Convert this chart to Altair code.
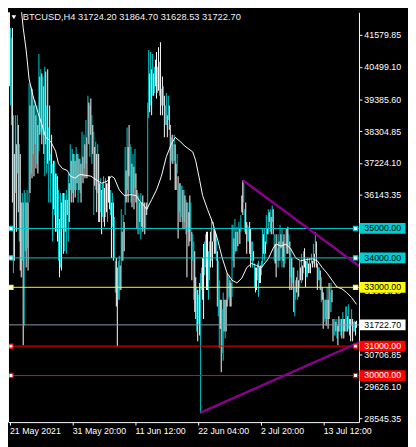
import altair as alt
import pandas as pd

title_text = "BTCUSD,H4  31724.20 31864.70 31628.53 31722.70"

# bar direction per 4h bar: C = up (cyan), W = down (white)
bar_dir = (
    "WC CW CW CW CW CW WC WC CW CW "
    "CW CW CW CW CW CW CW CW CW CW "
    "CW CW CW CW CW CW CW CW CW CW "
    "CW CW CW CW CW CW CW CW CW CW "
    "CW CW CW CW CW CW WC WC CW CW "
    "CW WC WC WC CW WC CW CW CW CW "
    "CW WC CW CW CW WC CW CW WC WC "
    "WC CW CW CW CW WC WC WC WC WC "
    "CW CW WC WC CW WC WC WC CW CW "
    "CW CW WC WC CW WC WC WC CW WC "
    "CW WC CW CW CW WC WC CW WC CW "
    "CW WC CW WC CW CW CW CW CW WC "
    "CW WC CW WC CW CW WC CW WC CW "
    "CW CW CW CW CW CW WC CW CW CW "
    "WC CW WC WC WC WC CW CW CW CW "
    "CW WC CW CW CW CW CW WC CW CW "
    "WC CW CW WC CW WC CW CW WC CW "
    "CW WC CW CW WC WC CW W"
)

bar_high = [
    42750, 41820, 41490, 41820, 38850, 37530, 38850, 37860, 38850, 38520, 37860, 37530, 35880, 36210, 35880, 36310, 36210, 35880, 36310, 35880,
    39940, 39180, 39840, 39750, 39420, 39180, 39350, 38850, 39180, 38520, 40930, 40170, 40410, 40270, 40170, 39840, 40500, 40340, 39180, 40410,
    38430, 39180, 37530, 38190, 37200, 37300, 37300, 36870, 36870, 36780, 36310, 35320, 36210, 35880, 36210, 36210, 36210, 35980, 36310, 35980,
    36870, 36540, 37860, 37300, 37700, 37530, 37530, 37300, 37770, 37530, 37530, 37370, 37370, 37200, 38290, 37440, 38190, 37860, 38690, 38100,
    39510, 39280, 39180, 39420, 38850, 38520, 38290, 37770, 37960, 37530, 37860, 37530, 36540, 36710, 36310, 36540, 36780, 36380, 36710, 36540,
    36540, 36780, 36780, 36310, 35880, 36210, 35880, 35390, 33900, 34000, 33670, 33900, 34070, 33740, 35650, 34890, 35460, 35220, 37770, 36970,
    38430, 37770, 38520, 37860, 37770, 37200, 37530, 37100, 37700, 36870, 36310, 36210, 36120, 35880, 36210, 35880, 36120, 35880, 35880, 35720,
    35880, 39280, 41070, 40270, 41000, 40410, 40930, 40270, 40500, 40740, 41000, 40500, 41160, 40670, 41330, 39750, 40170, 39840, 39510, 39180,
    39610, 38850, 39510, 39180, 38520, 38100, 38190, 37860, 38190, 37860, 37200, 37530, 36780, 36540, 36540, 36450, 36450, 36310, 36310, 36120,
    35980, 35880, 35880, 35550, 36120, 35880, 34890, 34800, 34560, 34230, 33340, 33010, 32910, 32750, 33150, 33480, 33670, 34000, 34470, 34560,
    34800, 34890, 34890, 34230, 34560, 34890, 35320, 34560, 35220, 34990, 34890, 34800, 34230, 33900, 33240, 32580, 32580, 32250, 32820, 32580,
    32580, 32580, 33480, 33340, 33410, 33240, 33150, 35130, 35130, 34660, 35320, 34890, 35060, 34890, 35220, 34990, 35460, 36120, 36640, 36540,
    35650, 35880, 35220, 35130, 35060, 35220, 34990, 34560, 34560, 34230, 33810, 33670, 33670, 33810, 33900, 33670, 33740, 33900, 34990, 34800,
    34990, 34560, 35460, 34990, 35650, 35550, 35650, 35390, 35780, 35650, 34800, 34470, 34800, 34330, 34800, 34560, 35130, 34800, 34990, 34560,
    34800, 34330, 34990, 34990, 35060, 34800, 34560, 34330, 34000, 33670, 33670, 33010, 33240, 33340, 33570, 33240, 33900, 33670, 34140, 33740,
    34230, 34330, 33900, 33900, 34000, 33810, 34000, 33810, 34140, 33900, 34470, 34140, 34890, 34560, 33810, 33670, 33670, 33570, 33340, 33010,
    32820, 32580, 32580, 32580, 33010, 32580, 33150, 32820, 33150, 32910, 31920, 31920, 31920, 31830, 31920, 31690, 32020, 31920, 31920, 31920,
    32160, 31920, 31920, 32350, 32350, 32020, 32420, 31920, 31920, 32250, 31920, 31830, 31860, 31830, 31864.70,
]

bar_low = [
    39840, 39180, 38520, 35880, 33480, 33900, 36210, 34890, 36870, 35550, 34560, 33570, 33340, 33900, 31030, 31690, 34230, 33670, 34330, 33570,
    35880, 36210, 36870, 36710, 37530, 36780, 37860, 37040, 37200, 36870, 37630, 38190, 38290, 37860, 38190, 37530, 36780, 37860, 36870, 37200,
    35880, 37300, 35880, 36870, 34560, 35650, 35460, 34890, 34890, 34560, 33900, 33340, 33670, 33570, 34990, 34140, 34230, 34890, 34140, 35460,
    34560, 35220, 36310, 35880, 36210, 35880, 36310, 36050, 36310, 36540, 35880, 36310, 36210, 35880, 36780, 36540, 37040, 36710, 37200, 36710,
    38100, 37860, 37440, 38190, 37200, 37530, 35460, 36450, 36310, 35550, 36210, 35220, 35220, 35550, 34800, 35390, 35220, 35060, 35390, 35550,
    35220, 35880, 35650, 35460, 34000, 35060, 33900, 34000, 32820, 32350, 31000, 32580, 32580, 32910, 32910, 33900, 33900, 34230, 35460, 35880,
    36310, 35880, 36780, 36210, 35880, 35720, 36210, 35650, 36380, 35880, 34990, 34800, 34800, 35220, 34630, 35060, 34890, 34990, 34800, 34990,
    35460, 35650, 38760, 38950, 39180, 38850, 39510, 39510, 39610, 39840, 39420, 39610, 39680, 39510, 38850, 39180, 38850, 39180, 38100, 38520,
    38520, 38100, 38690, 38360, 36640, 37300, 37200, 37200, 37300, 36310, 36310, 36870, 34660, 35550, 35220, 35390, 35220, 34990, 35220, 34990,
    34800, 33340, 34890, 34400, 34560, 34890, 33240, 33900, 32580, 32160, 31920, 31500, 31170, 31760, 31360, 28720, 32910, 32580, 31920, 33410,
    33670, 32910, 32910, 32580, 33240, 33670, 33900, 33670, 34560, 34140, 34140, 33900, 32350, 32020, 30930, 31590, 30110, 30770, 30500, 31500,
    31260, 31500, 32350, 32580, 32680, 32350, 32350, 32680, 33900, 33670, 34140, 34230, 34230, 34400, 34890, 34470, 34890, 35550, 35460, 35880,
    34890, 34800, 34140, 34560, 34560, 34140, 33670, 33900, 33670, 33900, 33010, 32820, 32910, 33240, 32680, 33150, 33150, 33410, 33670, 34140,
    33900, 34140, 34470, 34800, 34800, 35220, 34890, 34800, 35220, 34800, 33900, 33810, 33340, 33900, 33670, 33900, 33900, 34330, 33670, 33900,
    33670, 33810, 34330, 34140, 34140, 34400, 32910, 33340, 32910, 33150, 32160, 32020, 32580, 32820, 32580, 32680, 33010, 33240, 33150, 33240,
    33480, 33670, 33010, 33340, 33340, 33480, 33480, 33480, 33810, 33670, 33810, 33670, 34140, 33670, 32910, 33240, 33240, 32910, 32490, 32580,
    31590, 31830, 31920, 31690, 31920, 31590, 31920, 32160, 32160, 32490, 31170, 31360, 31360, 31500, 31260, 31030, 31500, 31500, 31360, 31260,
    31500, 31260, 31500, 31500, 31500, 31500, 31590, 31360, 31170, 31690, 31170, 31500, 31500, 31360, 31628.53,
]

# moving average (white line), sampled at bar indices
ma_bar = [12, 14, 17, 20, 24, 29, 34, 37, 42, 47, 50, 54, 59, 62, 67, 72, 77, 83, 89, 94,
          100, 104, 107, 112, 117, 124, 129, 134, 137, 140, 145, 150, 155, 160, 165, 169, 174, 179, 183, 187,
          190, 194, 197, 202, 207, 212, 217, 222, 227, 232, 237, 242, 247, 252, 257, 264, 269, 272, 277, 282,
          287, 292, 297, 302, 309, 314, 319, 324, 329, 334, 339, 344, 349, 354]
ma_value = [42480, 41820, 41070, 40080, 39510, 38950, 38430, 38100, 37960, 37630, 37200, 37040, 36970, 36780, 36710, 36840, 36810, 36780, 36640, 36540,
            36610, 36780, 36710, 36310, 36120, 36150, 36120, 35880, 35790, 35650, 35980, 36310, 36780, 37440, 37860, 38100, 37960, 37800, 37700, 37600,
            37300, 36640, 36120, 35650, 35220, 34660, 34000, 33480, 33240, 33150, 33310, 33670, 33810, 33740, 33670, 33970, 34330, 34470, 34400, 34470,
            34300, 34000, 33900, 33940, 33970, 33900, 33670, 33480, 33240, 33010, 32950, 32820, 32650, 32420]

# triangle trendlines (anchor bar index, price)
upper_trend_bar = [238, 359]
upper_trend_price = [36640, 33660]
lower_trend_bar = [195, 359]
lower_trend_price = [28740, 31160]

x_tick_bars = [0, 64, 128, 192, 256, 320]
x_tick_labels = ["21 May 2021", "31 May 20:00", "11 Jun 12:00", "22 Jun 04:00", "2 Jul 20:00", "13 Jul 12:00"]

y_ticks = [41579.85, 40499.10, 39385.60, 38304.85, 37224.10, 36143.35, 35062.60,
           33981.85, 32901.10, 31787.60, 30706.85, 29626.10, 28545.35]

level_prices = [35000, 34000, 33000, 31000, 30000]
level_colors = ["#00CED1", "#00CED1", "#FFFF00", "#FF0000", "#FF0000"]
level_text_colors = ["#000000", "#000000", "#000000", "#FFFFFF", "#FFFFFF"]
last_price = 31722.70

# ---------------------------------------------------------------
W, H = 358, 418
FONT = "Liberation Sans"
xs = alt.Scale(domain=[-1.5, 356.5], nice=False, zero=False)
ys = alt.Scale(domain=[28416.67, 42350], nice=False, zero=False)

dirs = [c for c in bar_dir if c in "CW"]
n = len(bar_high)
assert len(bar_low) == n and len(dirs) == n, (n, len(bar_low), len(dirs))
bars_df = pd.DataFrame({"bar": list(range(n)), "high": bar_high, "low": bar_low, "dir": dirs})

expr = "''"
for v, lab in reversed(list(zip(x_tick_bars, x_tick_labels))):
    expr = f"datum.value == {v} ? '{lab}' : {expr}"

x_axis = alt.Axis(values=x_tick_bars, labelExpr=expr, title=None, grid=False,
                  domainColor="white", tickColor="white", tickSize=3,
                  labelColor="white", labelFont=FONT, labelFontSize=9,
                  labelAlign="left", labelBaseline="top", labelPadding=2,
                  labelFlush=False, labelOverlap=False)
y_axis = alt.Axis(orient="right", values=y_ticks, format=".2f", title=None, grid=False,
                  domainColor="white", tickColor="white", tickSize=3,
                  labelColor="white", labelFont=FONT, labelFontSize=9,
                  labelAlign="left", labelPadding=2, labelOverlap=False)


def X(field):
    return alt.X(field, scale=xs, axis=x_axis, title=None)


def Y(field):
    return alt.Y(field, scale=ys, axis=y_axis, title=None)


# each 4h bar drawn as a one-bar-wide rectangle from low to high
bars = alt.Chart(bars_df).transform_calculate(
    b0="datum.bar - 0.5", b1="datum.bar + 0.5"
).mark_rect(clip=True, strokeWidth=0).encode(
    x=X("b0:Q"), x2="b1:Q",
    y=Y("low:Q"), y2="high:Q",
    color=alt.Color("dir:N", scale=alt.Scale(domain=["C", "W"], range=["#00CED1", "#FFFFFF"]), legend=None),
)

ma_df = pd.DataFrame({"bar": ma_bar, "price": ma_value})
ma = alt.Chart(ma_df).mark_line(color="white", strokeWidth=1, clip=True).encode(
    x=X("bar:Q"), y=Y("price:Q"),
)

lv_df = pd.DataFrame({
    "price": level_prices + [last_price],
    "color": level_colors + ["#FFFFFF"],
    "tcolor": level_text_colors + ["#000000"],
    "label": [f"{p:.2f}" for p in level_prices + [last_price]],
})
level_lines = alt.Chart(lv_df.iloc[:5]).mark_rule(strokeWidth=1).encode(
    y=Y("price:Q"),
    x=alt.value(0), x2=alt.value(W),
    color=alt.Color("color:N", scale=None),
)
last_line = alt.Chart(pd.DataFrame({"price": [last_price]})).mark_rule(strokeWidth=1, color="#8A9AAA").encode(
    y=Y("price:Q"),
    x=alt.value(0), x2=alt.value(W),
)

tr_df = pd.DataFrame({
    "bar": upper_trend_bar + lower_trend_bar,
    "price": upper_trend_price + lower_trend_price,
    "line": ["upper", "upper", "lower", "lower"],
})
trend = alt.Chart(tr_df).mark_line(color="#8B008B", strokeWidth=2.5, clip=True).encode(
    x=X("bar:Q"), y=Y("price:Q"),
    detail="line:N",
)

boxes = alt.Chart(lv_df).mark_rule(strokeWidth=11).encode(
    y=Y("price:Q"),
    x=alt.value(W + 0.5), x2=alt.value(W + 47.5),
    color=alt.Color("color:N", scale=None),
)
box_text = alt.Chart(lv_df).mark_text(align="left", baseline="middle", font=FONT, fontSize=9).encode(
    y=Y("price:Q"),
    x=alt.value(W + 5.5),
    text="label:N",
    color=alt.Color("tcolor:N", scale=None),
)

sq_left = alt.Chart(lv_df.iloc[:5]).mark_square(size=18, filled=True, fill="white", strokeWidth=1.2, opacity=1).encode(
    y=Y("price:Q"),
    x=alt.value(3),
    stroke=alt.Stroke("color:N", scale=None),
)
sq_right = alt.Chart(lv_df.iloc[:5]).mark_square(size=18, filled=True, fill="white", strokeWidth=1.2, opacity=1).encode(
    y=Y("price:Q"),
    x=alt.value(W - 3.5),
    stroke=alt.Stroke("color:N", scale=None),
)

border = alt.Chart(pd.DataFrame({"a": [0]})).mark_rule(color="white", strokeWidth=1).encode(
    x=alt.value(0.5), y=alt.value(0), y2=alt.value(H),
)

title = alt.Chart(pd.DataFrame({"t": [title_text]})).mark_text(
    align="left", baseline="middle", font=FONT, fontSize=9.5, color="#F0F0F0").encode(
    x=alt.value(15), y=alt.value(5), text="t:N",
)
tri = alt.Chart(pd.DataFrame({"a": [0]})).mark_point(shape="triangle-down", filled=True, color="white", size=22, opacity=1).encode(
    x=alt.value(6), y=alt.value(5),
)

chart = alt.layer(
    bars, ma, level_lines, last_line, trend, boxes, box_text, sq_left, sq_right, border, title, tri
).properties(
    width=W, height=H,
    autosize=alt.AutoSizeParams(type="none"),
    padding={"left": 0, "top": 0, "right": 50, "bottom": 21},
    background="black",
).configure_view(stroke=None)

chart.save("out.html", embed_options={"renderer": "svg", "actions": False})
